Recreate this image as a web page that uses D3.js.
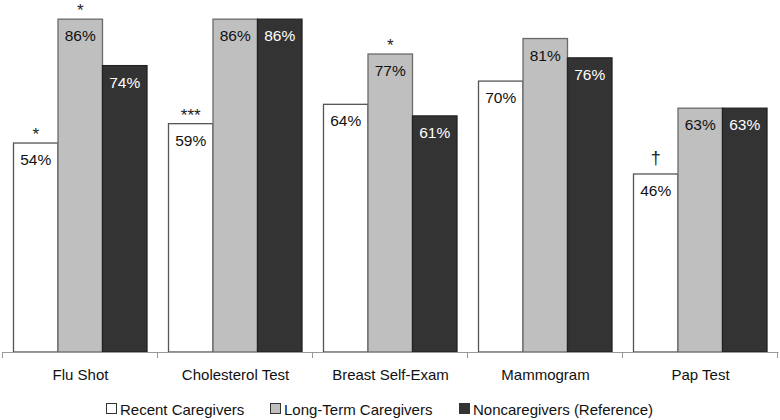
<!DOCTYPE html>
<html><head><meta charset="utf-8">
<script src="https://cdn.jsdelivr.net/npm/d3@7"></script>
<style>body{margin:0;background:#fff}svg{display:block;font-family:"Liberation Sans",Arial,sans-serif}</style>
</head><body>
<svg id="c" width="780" height="420"></svg>
<script>
const categories = ["Flu Shot","Cholesterol Test","Breast Self-Exam","Mammogram","Pap Test"];
const seriesNames = ["Recent Caregivers","Long-Term Caregivers","Noncaregivers (Reference)"];
const recent = [54,59,64,70,46];
const longTerm = [86,86,77,81,63];
const noncare = [74,86,61,76,63];
const recentMarks = ["*","***","","","†"];
const longTermMarks = ["*","","*","",""];
const noncareMarks = ["","","","",""];

const series = [
  {name:seriesNames[0], values:recent, marks:recentMarks, fill:"#ffffff", stroke:"#555", text:"#111"},
  {name:seriesNames[1], values:longTerm, marks:longTermMarks, fill:"#bfbfbf", stroke:"#6a6a6a", text:"#111"},
  {name:seriesNames[2], values:noncare, marks:noncareMarks, fill:"#333333", stroke:"#222", text:"#fff"}
];

const svg = d3.select("#c");
const x0 = d3.scaleBand().domain(categories).range([3,778]).paddingInner(0).paddingOuter(0);
const x1 = d3.scaleBand().domain(d3.range(3)).range([10.5, x0.bandwidth()-11]);
const y = d3.scaleLinear().domain([0,100]).range([352,-35]);

const g = svg.append("g");
categories.forEach((c,i)=>{
  const gg = g.append("g").attr("transform",`translate(${x0(c)},0)`);
  series.forEach((s,j)=>{
    const v = s.values[i];
    const bx = x1(j), bw = x1.bandwidth();
    gg.append("rect").attr("x",bx).attr("y",y(v)).attr("width",bw).attr("height",y(0)-y(v))
      .attr("fill",s.fill).attr("stroke",s.stroke).attr("stroke-width",1.3);
    gg.append("text").attr("x",bx+bw/2).attr("y",y(v)+22).attr("text-anchor","middle")
      .attr("font-size",15.5).attr("fill",s.text).text(v+"%");
    if(s.marks[i]){
      const dag = s.marks[i]==="†";
      gg.append("text").attr("x",bx+bw/2).attr("y",y(v)-(dag?10:3)).attr("text-anchor","middle")
        .attr("font-size",dag?18:17).attr("fill","#222").text(s.marks[i]);
    }
  });
});

// axis
const ax = svg.append("g").attr("transform","translate(0,352)")
  .call(d3.axisBottom(x0).tickSize(0).tickPadding(17));
ax.select(".domain").attr("stroke","#999").attr("d","M2.5,0.5H778.5");
ax.selectAll("text").attr("font-size",15).attr("fill","#111").attr("font-family","Liberation Sans, Arial, sans-serif");
const bounds = categories.map(c=>x0(c)).concat([x0(categories[categories.length-1])+x0.bandwidth()]);
ax.selectAll(".bnd").data(bounds).enter().append("line").attr("class","bnd")
  .attr("x1",d=>Math.round(d)-0.5).attr("x2",d=>Math.round(d)-0.5).attr("y1",0).attr("y2",6).attr("stroke","#999");

// legend
const legX = [106,270,459];
const leg = svg.append("g");
series.forEach((s,j)=>{
  leg.append("rect").attr("x",legX[j]+0.5).attr("y",403.5).attr("width",10).attr("height",10)
    .attr("fill",s.fill).attr("stroke","#333").attr("stroke-width",1);
  leg.append("text").attr("x",legX[j]+14).attr("y",414.5).attr("font-size",15).attr("fill","#111").text(s.name);
});
</script>
</body></html>
